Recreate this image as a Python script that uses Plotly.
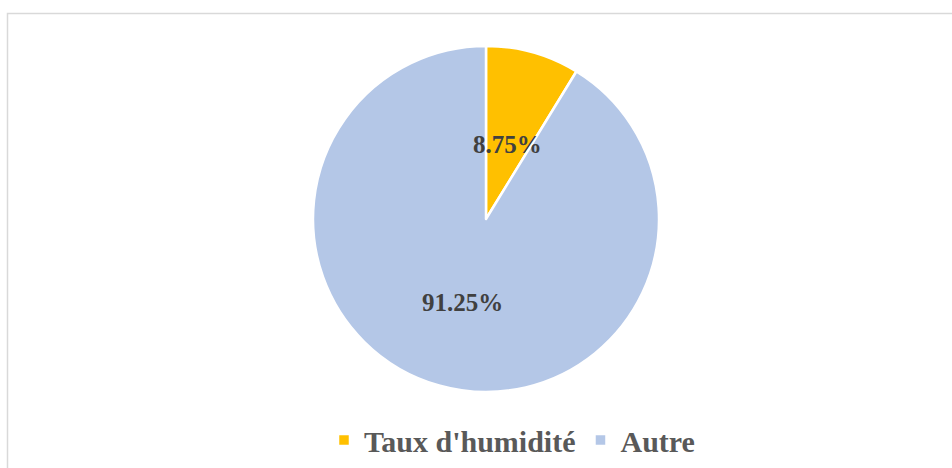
import math
import plotly.graph_objects as go

categories = ["Taux d'humidité", "Autre"]
values = [8.75, 91.25]
colors = ["#FFC000", "#B4C7E7"]

W, H = 952, 468
cx, cy, r = 486, 219, 173

label_font = dict(family="Liberation Serif", size=25, color="#404040", weight="bold")

fig = go.Figure(go.Pie(
    labels=categories,
    values=values,
    sort=False,
    direction="clockwise",
    rotation=0,
    marker=dict(colors=colors, line=dict(color="white", width=2.5)),
    texttemplate="%{value:.2f}%",
    textposition=["none", "inside"],
    insidetextorientation="horizontal",
    textfont=label_font,
    domain=dict(x=[(cx - r) / W, (cx + r) / W], y=[(H - cy - r) / H, (H - cy + r) / H]),
    hoverinfo="label+percent",
))

# label for the small slice, placed on its bisector (derived from the data)
total = sum(values)
mid_angle = math.radians(values[0] / total * 360 / 2)
frac = 0.45
ax_px = cx + frac * r * math.sin(mid_angle)
ay_px = cy - frac * r * math.cos(mid_angle)

fig.update_layout(
    width=W, height=H,
    margin=dict(l=0, r=0, t=0, b=0),
    paper_bgcolor="white",
    uniformtext=dict(minsize=25, mode="show"),
    showlegend=True,
    legend=dict(
        orientation="h",
        x=512 / W, xanchor="center",
        y=(H - 440) / H, yanchor="middle",
        font=dict(family="Liberation Serif", size=30, color="#595959", weight="bold"),
    ),
    annotations=[
        dict(xref="paper", yref="paper", x=ax_px / W, y=(H - ay_px) / H,
             text=f"{values[0]:.2f}%", showarrow=False, font=label_font,
             xanchor="center", yanchor="middle"),
    ],
    shapes=[
        dict(type="rect", xref="paper", yref="paper",
             x0=7.5 / W, x1=1.05, y0=-0.05, y1=(H - 13.5) / H,
             line=dict(color="#D9D9D9", width=1.5), fillcolor="rgba(0,0,0,0)", layer="below"),
    ],
)

fig.write_html("out.html", config={"displayModeBar": False},
               post_script="document.body.style.margin='0px';")
